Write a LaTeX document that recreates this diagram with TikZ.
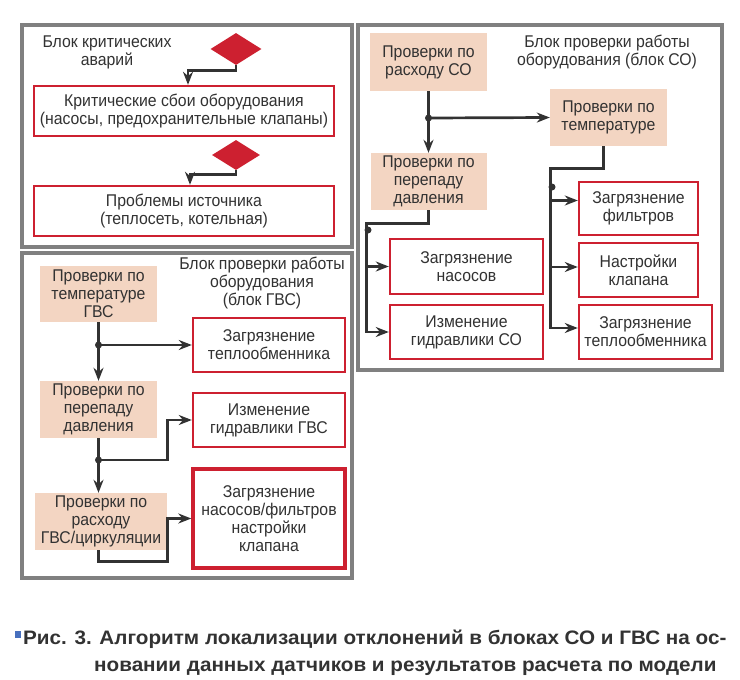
\documentclass[tikz,border=0pt]{standalone}
\usepackage{fontspec}
\setmainfont{Liberation Sans}
\newfontfamily\boxfont{Liberation Sans}[FakeStretch=0.93]
\newfontfamily\capfont{Liberation Sans}[FakeStretch=1.06]
\usetikzlibrary{arrows.meta,positioning,calc,shapes.geometric}
\definecolor{ink}{RGB}{50,50,50}
\definecolor{boxred}{RGB}{205,32,48}
\definecolor{peach}{RGB}{243,213,194}
\definecolor{framegray}{RGB}{128,128,128}
\definecolor{capblue}{RGB}{72,112,190}
\tikzset{every picture/.style={line join=miter}}
\tikzset{redbox/.style={draw=boxred, line width=2.4pt, fill=white, align=center,
  inner sep=0pt, text=ink, font=\boxfont\fontsize{17}{18}\selectfont}}
\tikzset{checkbox/.style={fill=peach, align=center, inner sep=0pt, text=ink,
  font=\boxfont\fontsize{17}{18}\selectfont}}
\tikzset{blocktitle/.style={align=center, text=ink, inner sep=0pt,
  font=\boxfont\fontsize{17}{18}\selectfont}}
\tikzset{frame/.style={draw=framegray, line width=3.5pt}}
\tikzset{arrow/.style={-{Stealth[length=13pt,width=10pt]}, draw=ink, line width=2.7pt}}
\tikzset{line/.style={draw=ink, line width=2.7pt}}
\tikzset{alarm/.style={diamond, fill=boxred, inner sep=0pt}}
\tikzset{caption/.style={anchor=base west, inner sep=0pt, text=ink,
  font=\capfont\bfseries\fontsize{19.5}{22}\selectfont}}

\begin{document}
\begin{tikzpicture}[x=1pt,y=-1pt]
  \useasboundingbox (0,0) rectangle (740,680);

  % Critical alarms block
  \draw[frame] (22,25) rectangle (352,247);
  \node[blocktitle] (crittitle) at (107,52) {Блок критических\\аварий};
  \node[alarm, minimum width=51pt, minimum height=32pt] (dia1) at (236,49) {};
  \node[redbox, minimum width=300pt, minimum height=50pt] (crit1) at (184,111)
    {Критические сбои оборудования\\(насосы, предохранительные клапаны)};
  \node[alarm, minimum width=48pt, minimum height=30pt] (dia2) at (236,155) {};
  \node[redbox, minimum width=300pt, minimum height=50pt] (crit2) at (184,211)
    {Проблемы источника\\(теплосеть, котельная)};
  \draw[arrow] (dia1.south) -- ++(0,5) -| ([xshift=4pt]crit1.north);
  \draw[arrow] (dia2.south) -- ++(0,4) -| ([xshift=6pt]crit2.north);

  % GVS block
  \draw[frame] (22,253) rectangle (352,578);
  \node[blocktitle] (gvstitle) at (262,283) {Блок проверки работы\\оборудования\\(блок ГВС)};
  \node[checkbox, minimum width=117pt, minimum height=56pt] (gt1) at (98.5,294)
    {Проверки по\\температуре\\ГВС};
  \node[checkbox, minimum width=117pt, minimum height=57pt] (gt2) at (98.5,409.5)
    {Проверки по\\перепаду\\давления};
  \node[checkbox, minimum width=132pt, minimum height=57pt] (gt3) at (101,521.5)
    {Проверки по\\расходу\\ГВС/циркуляции};
  \node[redbox, minimum width=152pt, minimum height=54pt] (gr1) at (269,345)
    {Загрязнение\\теплообменника};
  \node[redbox, minimum width=152pt, minimum height=54pt] (gr2) at (269,420)
    {Изменение\\гидравлики ГВС};
  \node[redbox, line width=3.4pt, minimum width=152pt, minimum height=99pt] (gr3) at (269,518.5)
    {Загрязнение\\насосов/фильтров\\настройки\\клапана};
  \coordinate (j1) at (98.5,345);
  \coordinate (j2) at (98.5,460);
  \draw[arrow] (gt1.south) -- (gt2.north);
  \draw[arrow] (j1) -- (gr1.west);
  \draw[arrow] (gt2.south) -- (gt2.south |- gt3.north);
  \draw[arrow] (j2) -- ++(69,0) |- (gr2.west);
  \draw[arrow] (gt2.south |- gt3.south) -- ++(0,11) -- ++(69,0) |- (gr3.west);
  \fill[ink] (j1) circle (3.5pt) (j2) circle (3.5pt);

  % CO block
  \draw[frame] (358,25) rectangle (722,370);
  \node[blocktitle] (cotitle) at (607,52) {Блок проверки работы\\оборудования (блок СО)};
  \node[checkbox, minimum width=117pt, minimum height=58pt] (ct1) at (428.5,62)
    {Проверки по\\расходу СО};
  \node[checkbox, minimum width=117pt, minimum height=57pt] (ct2) at (608.5,117.5)
    {Проверки по\\температуре};
  \node[checkbox, minimum width=116pt, minimum height=57pt] (ct3) at (428.5,181.5)
    {Проверки по\\перепаду\\давления};
  \node[redbox, minimum width=153pt, minimum height=55pt] (cr1) at (466.5,266.5)
    {Загрязнение\\насосов};
  \node[redbox, minimum width=153pt, minimum height=54pt] (cr2) at (466.5,332)
    {Изменение\\гидравлики СО};
  \node[redbox, minimum width=119pt, minimum height=53pt] (cr3) at (638.5,208.5)
    {Загрязнение\\фильтров};
  \node[redbox, minimum width=119pt, minimum height=54pt] (cr4) at (638.5,270)
    {Настройки\\клапана};
  \node[redbox, minimum width=133pt, minimum height=54pt] (cr5) at (645.5,332)
    {Загрязнение\\теплообменника};
  \coordinate (j3) at (428.5,118);
  \coordinate (j4) at (368,230);
  \coordinate (j5) at (552,187);
  \draw[arrow] (ct1.south) -- (ct3.north);
  \draw[arrow] (j3) -- (ct2.west);
  \draw[arrow] (ct3.south) -- ++(0,13) -| ([xshift=-22pt]cr2.west) -- (cr2.west);
  \draw[arrow] ([xshift=-22pt]cr1.west) -- (cr1.west);
  \draw[arrow] ([xshift=-5pt]ct2.south) -- ++(0,22) -| ([xshift=-27pt,yshift=4pt]cr5.west)
    -- ([yshift=4pt]cr5.west);
  \draw[arrow] ([xshift=-27pt,yshift=8pt]cr3.west) -- ([yshift=8pt]cr3.west);
  \draw[arrow] ([xshift=-27pt,yshift=3pt]cr4.west) -- ([yshift=3pt]cr4.west);
  \fill[ink] (j3) circle (3.5pt) (j4) circle (3.5pt) (j5) circle (3.5pt);

  % Caption
  \fill[capblue] (15,631) rectangle (21,638);
  \node[caption] (cap1) at (23,644)
    {Рис. 3. Алгоритм локализации отклонений в блоках СО и ГВС на ос-};
  \node[caption] (cap2) at (94,671)
    {новании данных датчиков и результатов расчета по модели};
\end{tikzpicture}
\end{document}
